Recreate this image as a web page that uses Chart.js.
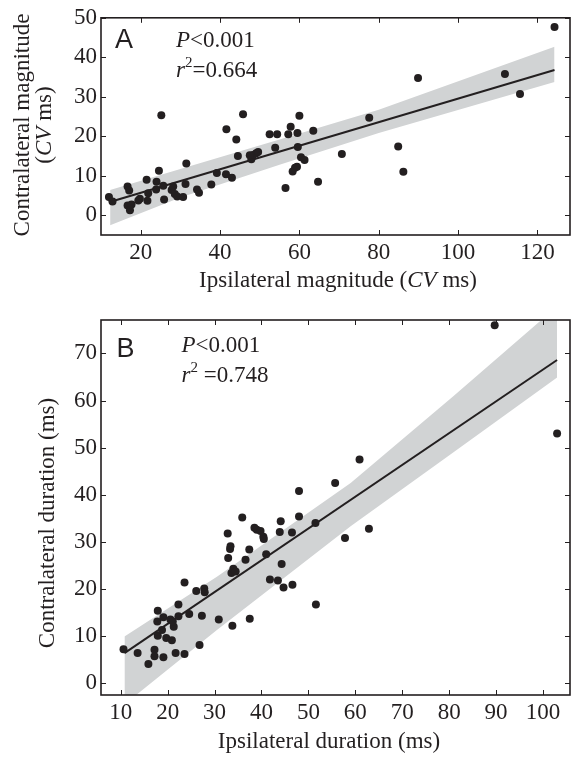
<!DOCTYPE html>
<html lang="en">

<head>
    <meta charset="UTF-8">
    <title>Contralateral vs ipsilateral</title>
    <style>
        body {
            margin: 0;
            background: #ffffff;
        }

        #wrap {
            position: relative;
            width: 577px;
            height: 757px;
        }

        #magnitudeChart {
            position: absolute;
            left: 0;
            top: 0;
        }

        #durationChart {
            position: absolute;
            left: 0;
            top: 300px;
        }
    </style>
    <script src="https://cdn.jsdelivr.net/npm/chart.js"></script>
</head>

<body>

    <div id="wrap">
        <canvas id="magnitudeChart" width="577" height="300"></canvas>
        <canvas id="durationChart" width="577" height="457"></canvas>
    </div>

    <script>
        // ---- Panel A: magnitude (CV ms) ----
        const magIpsi = [12.0, 12.9, 16.7, 17.1, 16.7, 17.3, 17.7, 19.4, 19.8, 21.5, 21.9, 21.7, 24.0, 23.9, 24.6, 25.2,
            25.7, 25.9, 27.8, 28.2, 28.6, 29.2, 30.7, 31.3, 31.5, 34.2, 34.7, 37.8, 39.2, 41.6, 41.5, 43.0, 44.1, 44.5,
            45.8, 47.9, 48.3, 49.1, 49.6, 47.5, 52.5, 54.4, 53.9, 57.2, 57.8, 56.5, 58.3, 58.9, 59.4, 59.5, 59.6, 60.0,
            60.4, 61.3, 63.5, 64.7, 70.7, 77.6, 84.9, 86.2, 89.9, 111.8, 115.6, 124.3];
        const magContra = [4.6, 3.5, 7.25, 6.25, 2.5, 1.25, 2.75, 3.75, 4.2, 9.0, 5.6, 3.7, 8.5, 6.5, 11.25, 25.3,
            7.5, 4.0, 6.4, 7.25, 5.4, 4.75, 4.6, 7.9, 13.1, 6.5, 5.7, 7.8, 10.7, 21.8, 10.4, 9.5, 19.2, 15.0,
            25.6, 14.2, 15.25, 15.7, 16.0, 15.2, 20.5, 20.5, 17.1, 20.5, 22.4, 6.9, 11.1, 12.0, 12.3, 20.8, 17.3, 25.2,
            14.7, 14.0, 21.4, 8.5, 15.5, 24.7, 17.4, 11.0, 34.75, 35.75, 30.7, 47.7];
        const magFitX = [12.0, 124.3];
        const magFitY = [3.3, 36.8];
        const magBandX = [12.3, 30, 55, 80, 124.3];
        const magBandUpper = [6.4, 11.7, 19.2, 26.7, 42.7];
        const magBandLower = [-2.5, 4.5, 12.8, 20.8, 33.75];
        const magXTicks = [20, 40, 60, 80, 100, 120];
        const magYTicks = [0, 10, 20, 30, 40, 50];

        // ---- Panel B: duration (ms) ----
        const durIpsi = [10.6, 13.6, 15.9, 17.2, 17.2, 17.9, 17.8, 17.9, 18.8, 19.1, 19.1, 19.7, 20.6, 20.9, 21.3, 21.1,
            21.7, 22.3, 22.3, 23.6, 23.6, 24.6, 26.1, 26.8, 27.3, 27.8, 27.9, 30.9, 32.8, 33.3, 33.4, 32.9, 33.6, 33.8,
            34.0, 34.5, 35.9, 36.6, 37.4, 37.5, 38.5, 39.0, 39.8, 40.4, 40.5, 41.0, 41.8, 43.5, 43.9, 44.3, 44.7, 44.1,
            46.5, 46.6, 48.0, 48.0, 51.6, 51.5, 55.7, 57.8, 60.9, 62.9, 89.7, 103.0];
        const durContra = [7.2, 6.4, 4.1, 7.1, 5.7, 15.4, 13.1, 10.1, 11.3, 14.0, 5.5, 9.6, 13.5, 9.1, 12.0, 13.1,
            6.4, 14.2, 16.7, 21.4, 6.2, 14.7, 19.6, 8.1, 14.3, 20.1, 19.3, 13.5, 31.8, 28.5, 29.1, 26.6, 23.4, 12.2,
            24.3, 23.7, 35.2, 26.2, 28.4, 13.7, 33.0, 32.6, 32.3, 31.1, 30.6, 27.4, 22.0, 21.8, 32.1, 25.3, 20.3, 34.4,
            32.0, 20.9, 35.4, 40.8, 16.7, 34.0, 42.5, 30.85, 47.5, 32.8, 76.0, 53.0];
        const durFitX = [10.8, 103.0];
        const durFitY = [6.4, 68.6];
        const durBandX = [10.8, 30.5, 59, 81, 103.0];
        const durBandUpper = [9.9, 22.6, 42.5, 61.0, 80.0];
        const durBandLower = [-4.5, 11.3, 33.3, 49.1, 64.9];
        const durXTicks = [10, 20, 30, 40, 50, 60, 70, 80, 90, 100];
        const durYTicks = [0, 10, 20, 30, 40, 50, 60, 70];

        const INK = '#231f20';
        const BAND = '#d1d3d4';
        const SERIF = "'Liberation Serif', 'Times New Roman', serif";
        const SANS = "'Liberation Sans', Arial, sans-serif";

        function pairs(xs, ys) {
            return xs.map((x, i) => ({ x: x, y: ys[i] }));
        }

        function run(t, style) {
            return { t: t, italic: style === 'i', sup: style === 'sup' };
        }

        // draws a line of text made of plain / italic / superscript runs
        function drawRuns(ctx, item) {
            ctx.save();
            ctx.translate(item.x, item.y);
            if (item.rotate) ctx.rotate(-Math.PI / 2);
            ctx.fillStyle = INK;
            ctx.textBaseline = 'alphabetic';
            ctx.textAlign = 'left';
            const fontOf = r => (r.italic ? 'italic ' : '') + (r.sup ? Math.round(item.size * 0.65) : item.size) + 'px ' + (item.family || SERIF);
            let total = 0;
            item.runs.forEach(r => {
                ctx.font = fontOf(r);
                r.w = ctx.measureText(r.t).width;
                total += r.w;
            });
            let cx = item.align === 'center' ? -total / 2 : 0;
            item.runs.forEach(r => {
                ctx.font = fontOf(r);
                ctx.fillText(r.t, cx, r.sup ? -item.size * 0.43 : 0);
                cx += r.w;
            });
            ctx.restore();
        }

        // closed box with inward ticks on all four sides, plus the figure texts
        const framePlugin = {
            id: 'frame',
            afterDraw(chart, args, opts) {
                const { ctx, chartArea: a, scales: { x, y } } = chart;
                ctx.save();
                ctx.strokeStyle = INK;
                ctx.lineWidth = 1;
                ctx.beginPath();
                x.ticks.forEach(t => {
                    const px = Math.round(x.getPixelForValue(t.value)) + 0.5;
                    ctx.moveTo(px, a.bottom); ctx.lineTo(px, a.bottom - 5);
                    ctx.moveTo(px, a.top); ctx.lineTo(px, a.top + 5);
                });
                y.ticks.forEach(t => {
                    const py = Math.round(y.getPixelForValue(t.value)) + 0.5;
                    ctx.moveTo(a.left, py); ctx.lineTo(a.left + 5, py);
                    ctx.moveTo(a.right, py); ctx.lineTo(a.right - 5, py);
                });
                ctx.stroke();
                ctx.lineWidth = 1.6;
                ctx.strokeRect(a.left, a.top, a.right - a.left, a.bottom - a.top);
                ctx.restore();
                (opts.items || []).forEach(item => drawRuns(ctx, item));
            }
        };

        function axis(min, max, tickValues, fit) {
            return {
                type: 'linear',
                min: min,
                max: max,
                grid: { display: false, drawTicks: false },
                border: { display: false },
                afterBuildTicks: s => { s.ticks = tickValues.map(v => ({ value: v })); },
                afterFit: fit,
                ticks: {
                    color: INK,
                    padding: 4,
                    font: { family: SERIF, size: 23 }
                }
            };
        }

        function datasets(xs, ys, fitX, fitY, bandX, bandUp, bandLo) {
            return [
                {
                    type: 'scatter',
                    data: pairs(xs, ys),
                    pointRadius: 4,
                    pointBackgroundColor: INK,
                    pointBorderWidth: 0
                },
                {
                    type: 'line',
                    data: pairs(fitX, fitY),
                    borderColor: INK,
                    borderWidth: 2,
                    pointRadius: 0,
                    fill: false
                },
                {
                    type: 'line',
                    data: pairs(bandX, bandUp),
                    borderWidth: 0,
                    pointRadius: 0,
                    backgroundColor: BAND,
                    fill: '+1'
                },
                {
                    type: 'line',
                    data: pairs(bandX, bandLo),
                    borderWidth: 0,
                    pointRadius: 0,
                    fill: false
                }
            ];
        }

        function baseOptions(top) {
            return {
                responsive: false,
                animation: false,
                layout: { padding: { top: top, right: 7, left: 0, bottom: 0 } },
                plugins: {
                    legend: { display: false },
                    tooltip: { enabled: false }
                }
            };
        }

        function createMagnitudeChart() {
            const ctx = document.getElementById('magnitudeChart').getContext('2d');
            const options = baseOptions(15);
            options.scales = {
                x: axis(10, 128.2, magXTicks, s => { s.height = 65; }),
                y: axis(-5, 50, magYTicks, s => { s.width = 101; })
            };
            options.plugins.frame = {
                items: [
                    { x: 115, y: 48, size: 27, family: SANS, runs: [run('A')] },
                    { x: 176, y: 46.5, size: 23, runs: [run('P', 'i'), run('<0.001')] },
                    { x: 176, y: 76.5, size: 23, runs: [run('r', 'i'), run('2', 'sup'), run('=0.664')] },
                    { x: 338, y: 287, size: 23, align: 'center', runs: [run('Ipsilateral magnitude ('), run('CV', 'i'), run(' ms)')] },
                    { x: 29, y: 125, size: 23, align: 'center', rotate: true, runs: [run('Contralateral magnitude')] },
                    { x: 51, y: 125, size: 23, align: 'center', rotate: true, runs: [run('('), run('CV', 'i'), run(' ms)')] }
                ]
            };
            new Chart(ctx, {
                type: 'scatter',
                data: { datasets: datasets(magIpsi, magContra, magFitX, magFitY, magBandX, magBandUpper, magBandLower) },
                options: options,
                plugins: [framePlugin]
            });
        }

        function createDurationChart() {
            const ctx = document.getElementById('durationChart').getContext('2d');
            const options = baseOptions(20);
            options.scales = {
                x: axis(5.8, 105.75, durXTicks, s => { s.height = 62; }),
                y: axis(-2.5, 77.1, durYTicks, s => { s.width = 101; })
            };
            options.plugins.frame = {
                items: [
                    { x: 116.5, y: 56.7, size: 27, family: SANS, runs: [run('B')] },
                    { x: 181.5, y: 51.7, size: 23, runs: [run('P', 'i'), run('<0.001')] },
                    { x: 181.5, y: 81.7, size: 23, runs: [run('r', 'i'), run('2', 'sup'), run(' =0.748')] },
                    { x: 329, y: 448, size: 23, align: 'center', runs: [run('Ipsilateral duration (ms)')] },
                    { x: 54, y: 223, size: 23, align: 'center', rotate: true, runs: [run('Contralateral duration (ms)')] }
                ]
            };
            new Chart(ctx, {
                type: 'scatter',
                data: { datasets: datasets(durIpsi, durContra, durFitX, durFitY, durBandX, durBandUpper, durBandLower) },
                options: options,
                plugins: [framePlugin]
            });
        }

        window.onload = function () {
            createMagnitudeChart();
            createDurationChart();
        };
    </script>

</body>

</html>
